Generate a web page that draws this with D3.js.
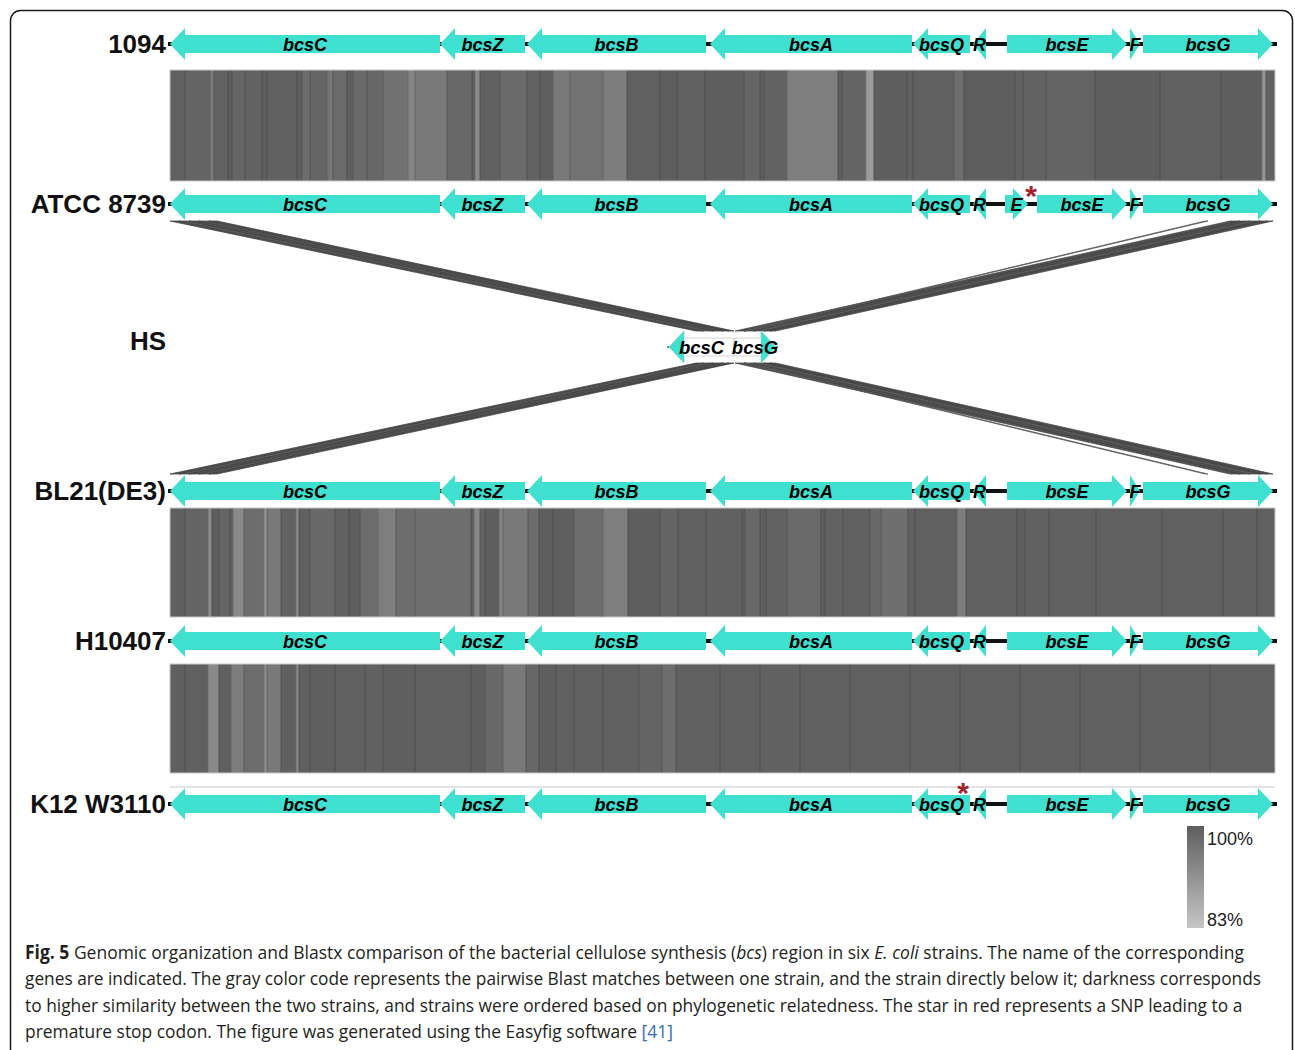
<!DOCTYPE html>
<html><head><meta charset="utf-8">
<script src="https://cdn.jsdelivr.net/npm/d3@7"></script>
<style>body{margin:0;background:#fff}svg{display:block}</style>
</head><body>
<svg id="c" width="1295" height="1050"></svg>
<script>
// ---------------- DATA ----------------
const strains = ["1094", "ATCC 8739", "HS", "BL21(DE3)", "H10407", "K12 W3110"];
const genomeLength = [11050, 11050, 1070, 11050, 11050, 11050];

// [label, start, end, strand]
const genesCommon = [
  ["bcsC", 0, 2700, -1], ["bcsZ", 2700, 3550, -1], ["bcsB", 3570, 5360, -1],
  ["bcsA", 5400, 7420, -1], ["bcsQ", 7430, 8000, -1], ["R", 8030, 8160, -1],
  ["bcsE", 8370, 9570, 1], ["F", 9600, 9700, 1], ["bcsG", 9730, 11030, 1]
];
const genesATCC = [
  ["bcsC", 0, 2700, -1], ["bcsZ", 2700, 3550, -1], ["bcsB", 3570, 5360, -1],
  ["bcsA", 5400, 7420, -1], ["bcsQ", 7430, 8000, -1], ["R", 8030, 8160, -1],
  ["E", 8350, 8580, 1], ["bcsE", 8670, 9570, 1], ["F", 9600, 9700, 1], ["bcsG", 9730, 11030, 1]
];
const genesHS = [["bcsC", 0, 650, -1], ["bcsG", 650, 1070, 1]];

// direct comparisons: [start, end, identity %]
const cmp1094Atcc = [
  [0,150,99.7],[150,400,99.0],[400,440,95.5],[440,580,99.3],[580,620,100],[620,750,98.8],
  [750,920,99.3],[920,970,100],[970,1270,99.5],[1270,1320,100],[1320,1400,97.5],[1400,1570,98.8],
  [1570,1630,96],[1630,1770,97.8],[1770,1830,99.8],[1830,1970,98],[1970,2130,98.6],[2130,2380,96.9],
  [2380,2450,93.7],[2450,2770,95.6],[2770,3020,98.3],[3020,3050,100],[3050,3100,92.9],[3100,3300,99.6],
  [3300,3570,98],[3570,3700,99.3],[3700,3830,99.8],[3830,4000,95.6],[4000,4330,96.8],[4330,4570,95],
  [4570,4900,99.7],[4900,5070,100],[5070,5350,99.6],[5350,5740,100],[5740,5900,98.8],[5900,5940,100],
  [5940,6170,99.3],[6170,6680,94.7],[6680,6720,100],[6720,6960,99],[6960,7040,90.1],[7040,7370,100],
  [7370,7430,99.5],[7430,7840,99.6],[7840,7940,97.6],[7940,8450,100],[8450,8530,99.5],[8530,8760,99.3],
  [8760,9250,99],[9250,9900,100],[9900,10510,99.6],[10510,10920,100],[10920,10960,91],[10960,11050,99.3]
];
const cmpBl21H10407 = [
  [0,150,99.8],[150,380,99.0],[380,420,93],[420,490,100],[490,600,99],[600,630,100],[630,740,93],
  [740,940,97.6],[940,970,91],[970,1110,95.6],[1110,1260,99.3],[1260,1290,92],[1290,1400,99.6],
  [1400,1650,98.3],[1650,1790,99.5],[1790,1900,100],[1900,2080,97.6],[2080,2260,94.8],[2260,2450,97.6],
  [2450,3010,97.4],[3010,3040,100],[3040,3100,93.5],[3100,3150,99],[3150,3290,100],[3290,3330,94],
  [3330,3580,95.6],[3580,3690,97.6],[3690,3830,100],[3830,4040,99.8],[4040,4330,97.6],[4330,4580,94.7],
  [4580,4900,100],[4900,5080,99],[5080,5360,99.6],[5360,5720,99.5],[5720,5750,100],[5750,5900,98.3],
  [5900,5960,100],[5960,6170,99.3],[6170,6510,98],[6510,6550,100],[6550,6730,99.3],[6730,7000,99.6],
  [7000,7110,98.3],[7110,7380,97.4],[7380,7450,99.5],[7450,7870,99.6],[7870,7960,94.8],[7960,8470,99.6],
  [8470,8550,100],[8550,8790,99.5],[8790,9260,99.6],[9260,9920,99.7],[9920,10530,99.7],[10530,10870,99.5],
  [10870,11050,99.6]
];
const cmpH10407K12 = [
  [0,150,99.8],[150,380,99.6],[380,490,93],[490,610,99.6],[610,740,95],[740,940,97.6],[940,970,92],
  [970,1110,95.6],[1110,1260,99.6],[1260,1290,93],[1290,1400,99.6],[1400,1650,99.8],[1650,1950,99.6],
  [1950,2130,99.5],[2130,2450,99.8],[2450,3010,99.7],[3010,3150,100],[3150,3330,98.3],[3330,3560,95.6],
  [3560,3690,98.6],[3690,3860,100],[3860,4040,99.6],[4040,4330,99.7],[4330,4690,99.6],[4690,4920,99],
  [4920,5060,97.6],[5060,5500,99.6],[5500,5900,99.7],[5900,6300,99.5],[6300,6800,99.7],[6800,7400,99.6],
  [7400,7900,99.7],[7900,8500,99.6],[8500,9100,99.7],[9100,9700,99.6],[9700,10400,99.7],[10400,11050,99.6]
];
// crossing comparisons: [topStart, topEnd, bottomStart, bottomEnd, identity %]
const cmpAtccHS = [
  [0,90,270,345,100],[90,190,345,440,98],[190,290,440,540,100],[290,390,540,600,98.5],[390,470,600,650,100],
  [10600,10700,660,750,99],[10700,10800,750,850,100],[10800,10900,850,950,98],[10900,10970,950,1010,100],[10970,11030,1010,1065,99],
  [10350,10380,750,770,93]
];
const cmpHSBl21 = [
  [270,345,0,90,100],[345,440,90,190,98],[440,540,190,290,100],[540,600,290,390,98.5],[600,650,390,470,100],
  [660,750,10600,10700,99],[750,850,10700,10800,100],[850,950,10800,10900,98],[950,1010,10900,10970,100],[1010,1065,10970,11030,99],
  [750,770,10350,10380,93]
];
// premature stop codon SNPs: [strain index, position]
const stopSNPs = [[1, 8610], [5, 7930]];
const legendIdentity = [100, 83];
const captionLines = [
  [["Fig. 5","b"],[" Genomic organization and Blastx comparison of the bacterial cellulose synthesis (",""],["bcs","i"],[") region in six ",""],["E. coli","i"],[" strains. The name of the corresponding",""]],
  [["genes are indicated. The gray color code represents the pairwise Blast matches between one strain, and the strain directly below it; darkness corresponds",""]],
  [["to higher similarity between the two strains, and strains were ordered based on phylogenetic relatedness. The star in red represents a SNP leading to a",""]],
  [["premature stop codon. The figure was generated using the Easyfig software ",""],["[41]","l"]]
];

// ---------------- LAYOUT ----------------
const svg = d3.select("#c");
const maxLen = d3.max(genomeLength);
const x = d3.scaleLinear().domain([0, maxLen]).range([170, 1275]);
const trackY = [44, 204, 347, 491, 641, 804];
const offset = genomeLength.map(L => (maxLen - L) / 2);
const xp = (i, v) => x(v + offset[i]);
const shade = d3.scaleLinear().domain([83, 100]).range(["#c6c6c6", "#5e5e5e"]).clamp(true);
const geneSets = [genesCommon, genesATCC, genesHS, genesCommon, genesCommon, genesCommon];
const TURQ = "#40e0d0";
const HEAD = 15, HH = 16, BH = 9;
const SANS = "Liberation Sans, Arial, sans-serif";

// frame
svg.append("rect").attr("x", 10.5).attr("y", 10.5).attr("width", 1282).attr("height", 1080)
  .attr("rx", 10).attr("fill", "none").attr("stroke", "#1a1a1a").attr("stroke-width", 1.5);

// comparisons
const comps = [
  {top:0, bot:1, y0:70, y1:181, segs:cmp1094Atcc, direct:true},
  {top:1, bot:2, y0:221, y1:331, segs:cmpAtccHS, direct:false},
  {top:2, bot:3, y0:363, y1:474, segs:cmpHSBl21, direct:false},
  {top:3, bot:4, y0:508, y1:617, segs:cmpBl21H10407, direct:true},
  {top:4, bot:5, y0:664, y1:773, segs:cmpH10407K12, direct:true}
];
comps.forEach(c => {
  const g = svg.append("g");
  if (c.direct) {
    g.selectAll("rect.s").data(c.segs).join("rect")
      .attr("x", d => xp(c.top, d[0])).attr("y", c.y0)
      .attr("width", d => xp(c.top, d[1]) - xp(c.top, d[0])).attr("height", c.y1 - c.y0)
      .attr("fill", d => shade(d[2]));
    g.selectAll("line.b").data(c.segs.slice(1)).join("line")
      .attr("x1", d => xp(c.top, d[0])).attr("x2", d => xp(c.top, d[0]))
      .attr("y1", c.y0).attr("y2", c.y1)
      .attr("stroke", d => d3.color(shade(d[2])).darker(0.7)).attr("stroke-width", 1).attr("opacity", 0.8);
    g.append("rect").attr("x", x(0)).attr("y", c.y0).attr("width", x(maxLen) - x(0)).attr("height", c.y1 - c.y0)
      .attr("fill", "none").attr("stroke", "#c8c8c8").attr("stroke-width", 1);
  } else {
    g.selectAll("polygon").data(c.segs).join("polygon")
      .attr("points", d => [[xp(c.top, d[0]), c.y0], [xp(c.top, d[1]), c.y0],
                            [xp(c.bot, d[3]), c.y1], [xp(c.bot, d[2]), c.y1]].map(p => p.join(",")).join(" "))
      .attr("fill", d => d3.color(shade(d[4])).darker(0.35))
      .attr("stroke", d => d3.color(shade(d[4])).darker(1.4)).attr("stroke-width", 0.7);
  }
});

// thin line above K12 track
svg.append("line").attr("x1", x(0)).attr("x2", x(maxLen)).attr("y1", 787).attr("y2", 787)
  .attr("stroke", "#c8c8c8").attr("stroke-width", 1);

// gene tracks
function arrowPts(x0, x1, s, cy) {
  const h = Math.min(HEAD, x1 - x0);
  if (s < 0) {
    const hb = x0 + h;
    return h < HEAD ? [[x0,cy],[x1,cy-HH],[x1,cy+HH]] :
      [[x0,cy],[hb,cy-HH],[hb,cy-BH],[x1,cy-BH],[x1,cy+BH],[hb,cy+BH],[hb,cy+HH]];
  } else {
    const hb = x1 - h;
    return h < HEAD ? [[x1,cy],[x0,cy-HH],[x0,cy+HH]] :
      [[x1,cy],[hb,cy-HH],[hb,cy-BH],[x0,cy-BH],[x0,cy+BH],[hb,cy+BH],[hb,cy+HH]];
  }
}
function headPts(x0, x1, s, cy) {
  if (s < 0) return [[x0,cy],[x0+HEAD,cy-HH],[x0+HEAD,cy+HH]];
  return [[x1,cy],[x1-HEAD,cy-HH],[x1-HEAD,cy+HH]];
}
const ptsStr = p => p.map(q => q.join(",")).join(" ");

strains.forEach((name, i) => {
  const cy = trackY[i];
  const g = svg.append("g");
  const isFrag = name === "HS";
  g.append("line").attr("x1", xp(i, 0) - 2).attr("x2", xp(i, genomeLength[i]) + 2)
    .attr("y1", cy).attr("y2", cy).attr("stroke", "#111").attr("stroke-width", isFrag ? 1 : 4);
  geneSets[i].forEach(gn => {
    const x0 = xp(i, gn[1]), x1 = xp(i, gn[2]);
    if (isFrag) {
      g.append("polygon").attr("points", ptsStr(arrowPts(x0, x1, gn[3], cy)))
        .attr("fill", "#fff").attr("stroke", "#b8b8b8").attr("stroke-width", 0.6);
      g.append("polygon").attr("points", ptsStr(headPts(x0, x1, gn[3], cy))).attr("fill", TURQ);
    } else {
      g.append("polygon").attr("points", ptsStr(arrowPts(x0, x1, gn[3], cy))).attr("fill", TURQ);
    }
    g.append("text").attr("x", (x0 + x1) / 2).attr("y", cy + 6.5).attr("text-anchor", "middle")
      .attr("font-family", SANS).attr("font-size", isFrag ? 18.5 : 18)
      .attr("font-weight", "bold").attr("font-style", "italic").attr("fill", "#000").text(gn[0]);
  });
  svg.append("text").attr("x", 166).attr("y", cy + 9 + (isFrag ? -6 : 0)).attr("text-anchor", "end")
    .attr("font-family", SANS).attr("font-size", 26)
    .attr("font-weight", "bold").attr("fill", "#111").text(name);
});

// stop codon stars
svg.selectAll("text.star").data(stopSNPs).join("text").attr("class", "star")
  .attr("x", d => xp(d[0], d[1])).attr("y", d => trackY[d[0]] + (d[0] === 5 ? -1 : 2))
  .attr("text-anchor", "middle").attr("font-family", SANS)
  .attr("font-size", 30).attr("font-weight", "bold").attr("fill", "#a3232b").text("*");

// legend
const defs = svg.append("defs");
const lg = defs.append("linearGradient").attr("id", "lg").attr("x1", 0).attr("x2", 0).attr("y1", 0).attr("y2", 1);
lg.append("stop").attr("offset", "0%").attr("stop-color", shade(legendIdentity[0]));
lg.append("stop").attr("offset", "100%").attr("stop-color", shade(legendIdentity[1]));
const ly = d3.scaleLinear().domain([legendIdentity[1], legendIdentity[0]]).range([928, 826]);
svg.append("rect").attr("x", 1187).attr("y", ly(legendIdentity[0])).attr("width", 17)
  .attr("height", ly(legendIdentity[1]) - ly(legendIdentity[0])).attr("fill", "url(#lg)");
legendIdentity.forEach((v, k) => {
  svg.append("text").attr("x", 1207).attr("y", k === 0 ? ly(v) + 19 : ly(v) - 2)
    .attr("font-family", SANS).attr("font-size", 18)
    .attr("fill", "#222").text(v + "%");
});

// caption
const capTargets = [1245, 1262, 1243, 673];
captionLines.forEach((line, k) => {
  const g = svg.append("g");
  const t = g.append("text").attr("x", 0).attr("y", 0)
    .attr("font-family", "Open Sans, Noto Sans, sans-serif").attr("font-size", 19).attr("fill", "#231f20");
  line.forEach(([txt, st]) => {
    const ts = t.append("tspan").text(txt);
    if (st === "b") ts.attr("font-weight", "bold");
    if (st === "i") ts.attr("font-style", "italic");
    if (st === "l") ts.attr("fill", "#2f6db5");
  });
  const w = t.node().getComputedTextLength();
  const sx = (capTargets[k] - 25) / w;
  g.attr("transform", `translate(25,${959 + k * 26.3}) scale(${sx},1)`);
});
</script>
</body></html>
